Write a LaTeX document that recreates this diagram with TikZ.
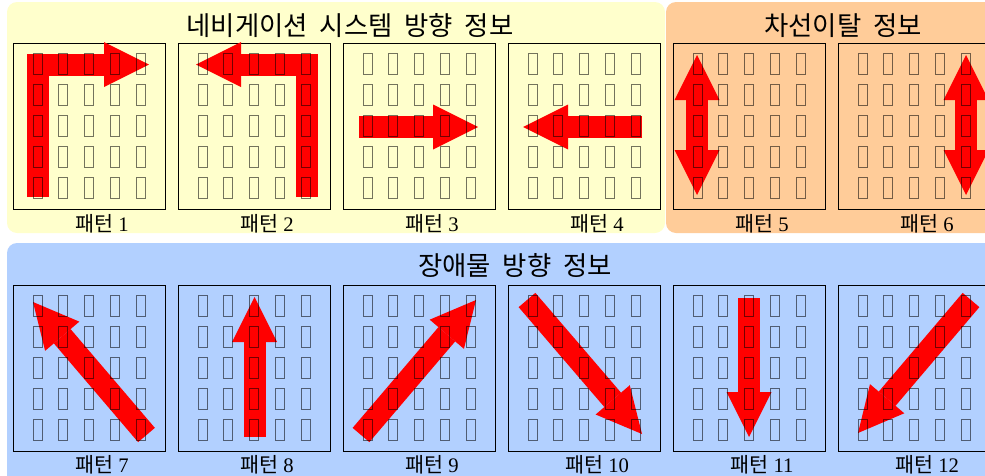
\documentclass[tikz,border=0pt]{standalone}
\usepackage{fontspec}
\setmainfont{Liberation Serif}
\newfontfamily\kr[WordSpace=2]{Noto Sans CJK KR}
\usetikzlibrary{arrows.meta}
\definecolor{panelyellow}{RGB}{255,255,204}
\definecolor{panelorange}{RGB}{255,204,153}
\definecolor{panelblue}{RGB}{178,208,255}
\definecolor{arrowred}{RGB}{255,0,0}
\tikzset{BigHead/.tip={Triangle[length=33.75pt,width=33.75pt,line width=0pt]}}
\begin{document}
\begin{tikzpicture}[x=0.75pt,y=-0.75pt,
  panel/.style={rounded corners=7.5pt},
  frame/.style={draw=black, line width=0.6pt, minimum width=114pt, minimum height=124.5pt, inner sep=0pt, outer sep=0pt},
  cell/.style={draw=black, draw opacity=0.55, line width=0.75pt},
  bigarrow/.style={draw=arrowred, line width=16.5pt, line join=miter, -{BigHead}},
  dblarrow/.style={draw=arrowred, line width=16.5pt, {BigHead}-{BigHead}},
  title/.style={font=\kr\fontsize{19.8}{22}\selectfont, inner sep=0pt, anchor=base},
  patlabel/.style={font=\fontsize{15.5}{18}\selectfont, inner sep=0pt, anchor=base},
  pics/cellgrid/.style={code={
    \foreach \r in {0,...,4}{
      \foreach \c in {0,...,4}{
        \draw[cell] ({20+25.9*\c},{10+31.1*\r}) rectangle ++(9,21);
      }
    }
  }}
]
\useasboundingbox (0,0) rectangle (985,475);
\clip (0,0) rectangle (985,475);
\fill[white] (0,0) rectangle (985,475);
% panels
\fill[panelyellow, panel] (7,2) rectangle (665,233);
\fill[panelorange, panel] (666,2) rectangle (1010,233);
\fill[panelblue, panel] (7,243) rectangle (1010,500);
% frames
\foreach \n/\bx/\by in {1/13/43, 2/178/43, 3/343/43, 4/508/43, 5/673/43, 6/838/43,
                         7/13/285, 8/178/285, 9/343/285, 10/508/285, 11/673/285, 12/838/285}{
  \node[frame, anchor=north west] (b\n) at (\bx,\by) {};
}
% arrows
\begin{scope}[shift={(b1.north west)}]
  \draw[bigarrow] (25,154) -- (25,21.5) -- (136,21.5);
\end{scope}
\begin{scope}[shift={(b2.north west)}]
  \draw[bigarrow] (128.5,154) -- (128.5,21.5) -- (18,21.5);
\end{scope}
\begin{scope}[shift={(b3.north west)}]
  \draw[bigarrow] (16,84) -- (135,84);
\end{scope}
\begin{scope}[shift={(b4.north west)}]
  \draw[bigarrow] (134,84) -- (15,84);
\end{scope}
\begin{scope}[shift={(b5.north west)}]
  \draw[dblarrow] (24,12) -- (24,152);
\end{scope}
\begin{scope}[shift={(b6.north west)}]
  \draw[dblarrow] (128,12) -- (128,152);
\end{scope}
\begin{scope}[shift={(b7.north west)}]
  \draw[bigarrow] (133.5,150) -- (20,17);
\end{scope}
\begin{scope}[shift={(b8.north west)}]
  \draw[bigarrow] (76.5,152) -- (76.5,12);
\end{scope}
\begin{scope}[shift={(b9.north west)}]
  \draw[bigarrow] (18,150) -- (133,15);
\end{scope}
\begin{scope}[shift={(b10.north west)}]
  \draw[bigarrow] (19,15) -- (134,149);
\end{scope}
\begin{scope}[shift={(b11.north west)}]
  \draw[bigarrow] (76,13) -- (76,152);
\end{scope}
\begin{scope}[shift={(b12.north west)}]
  \draw[bigarrow] (133,15) -- (20,148);
\end{scope}
% cell grids and labels
\foreach \n/\bx/\by/\ly in {1/13/43/231, 2/178/43/231, 3/343/43/231, 4/508/43/231, 5/673/43/231, 6/838/43/231,
                         7/13/285/472, 8/178/285/472, 9/343/285/472, 10/508/285/472, 11/673/285/472, 12/838/285/472}{
  \pic at (\bx,\by) {cellgrid};
  \node[patlabel] (l\n) at ({\bx+89},\ly) {{\kr 패턴} \n};
}
% titles
\node[title] (t1) at (350,35.5) {네비게이션 시스템 방향 정보};
\node[title] (t2) at (843,35.5) {차선이탈 정보};
\node[title] (t3) at (515,275) {장애물 방향 정보};
\end{tikzpicture}
\end{document}
